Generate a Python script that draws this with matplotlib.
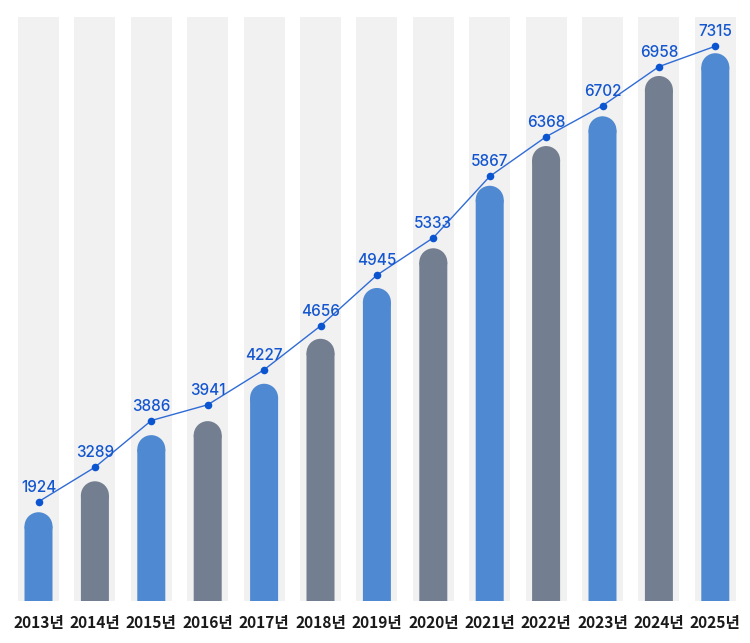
import matplotlib

matplotlib.use('Agg')
import matplotlib.pyplot as plt
from matplotlib.patches import Ellipse

years = ['2013년', '2014년', '2015년', '2016년', '2017년', '2018년', '2019년',
         '2020년', '2021년', '2022년', '2023년', '2024년', '2025년']
labels = [1924, 3289, 3886, 3941, 4227, 4656, 4945, 5333, 5867, 6368, 6702, 6958, 7315]
# bar heights and line heights as % of the grey track
bar_vals = [15.2, 20.5, 28.4, 30.8, 37.2, 44.9, 53.6, 60.4, 71.1, 77.9, 83.0, 89.9, 93.8]
line_vals = [17.0, 22.9, 30.9, 33.6, 39.6, 47.1, 55.8, 62.2, 72.7, 79.5, 84.8, 91.5, 95.0]

BLUE = '#4e89d2'
GREY = '#737e91'
TRACK = '#f1f1f1'
DOT = '#0b55d1'

W, H = 750, 643
fig = plt.figure(figsize=(W / 100, H / 100), dpi=100)
ax = fig.add_axes([0, 42 / H, 1, 584 / H])

step = 56.4
x0 = 38.5
ax.set_xlim(-x0 / step, (W - x0) / step)
ax.set_ylim(0, 100)
px_y = 584 / 100  # pixels per y unit

xs = list(range(len(years)))
ax.bar(xs, [100] * len(xs), width=41 / step, color=TRACK, zorder=1)

# bars with a round cap: rectangle + ellipse (circle in pixels)
bw = 28 / step
ry = 14 / px_y
cols = [BLUE if i % 2 == 0 else GREY for i in xs]
ax.bar(xs, [v - ry for v in bar_vals], width=bw, color=cols, zorder=2,
       snap=False, lw=0)
for x, v, c in zip(xs, bar_vals, cols):
    ax.add_patch(Ellipse((x, v - ry), bw, 2 * ry, color=c, zorder=2, lw=0))

ax.plot(xs, line_vals, color='#2f6bd6', lw=1, zorder=3)
ax.scatter(xs, line_vals, s=30, color=DOT, zorder=4, lw=0)
for x, v, lab in zip(xs, line_vals, labels):
    ax.annotate(str(lab), (x, v), xytext=(0, 5), textcoords='offset points',
                ha='center', va='bottom', fontsize=11, color='#1456cf',
                family=['Inter', 'DejaVu Sans'], fontweight='medium', clip_on=False)

ax.set_xticks(xs)
ax.set_xticklabels(years, family=['Noto Sans CJK KR', 'DejaVu Sans'],
                   fontsize=11.2, fontweight='bold', color='#1a1a1a')
ax.tick_params(axis='x', length=0, pad=10)
ax.set_yticks([])
for s in ax.spines.values():
    s.set_visible(False)

fig.savefig('out.png', dpi=100)
plt.close(fig)
